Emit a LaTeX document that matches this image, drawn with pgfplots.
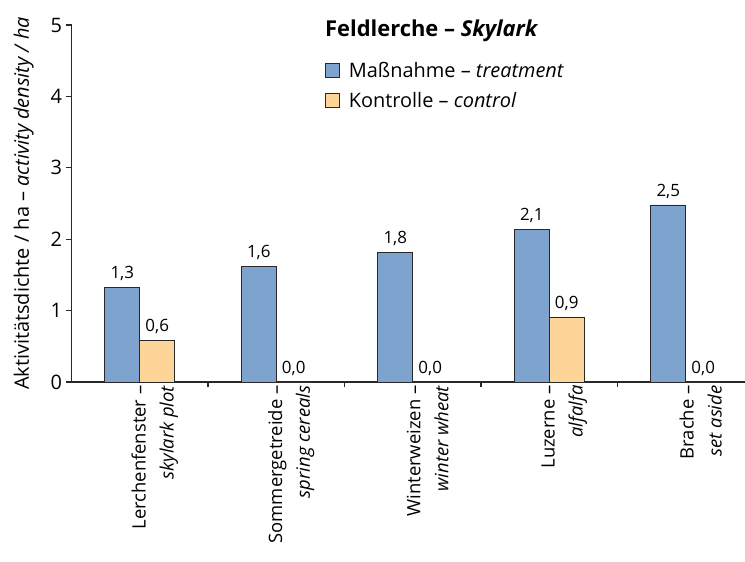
\documentclass[border=0pt]{standalone}
\usepackage{fontspec}
\setmainfont{Open Sans}
\usepackage{pgfplots}
\pgfplotsset{compat=1.18}
\definecolor{tblue}{RGB}{127,163,207}
\definecolor{corange}{RGB}{253,213,153}
\definecolor{axgray}{RGB}{40,40,40}
\begin{document}
\begin{tikzpicture}
\useasboundingbox (0,0) rectangle (745bp,-562bp);
\begin{axis}[
  at={(71.5bp,-382bp)}, anchor=south west,
  width=675.7bp, height=357bp, scale only axis,
  xmin=-0.5, xmax=4.45, ymin=0, ymax=5,
  axis x line*=bottom, axis y line*=left,
  axis line style={-, line width=1.1bp, draw=axgray},
  every tick/.style={line width=1.1bp, draw=axgray},
  tick align=outside, major tick length=5bp,
  ytick={0,1,2,3,4,5},
  /pgf/number format/assume math mode=true,
  yticklabel style={font=\fontsize{20}{24}\selectfont, xshift=-1bp},
  xtick={0.5,1.5,2.5,3.5}, xticklabels={},
  extra x ticks={0,1,2,3,4},
  extra x tick labels={
    {Lerchenfenster --\\\textit{skylark plot}},
    {Sommergetreide --\\\textit{spring cereals}},
    {Winterweizen --\\\textit{winter wheat}},
    {Luzerne --\\\textit{alfalfa}},
    {Brache --\\\textit{set aside}}},
  extra x tick style={major tick length=0pt,
    tick label style={rotate=90, anchor=east, align=right,
      font=\fontsize{18.5}{28}\selectfont, yshift=-15bp}},
  ylabel={Aktivitätsdichte / ha -- \textit{activity density / ha}},
  ylabel style={font=\fontsize{20}{24}\selectfont, yshift=10bp},
  ybar=0pt, bar width=0.256,
  nodes near coords={\pgfmathprintnumber[fixed,fixed zerofill,precision=1,use comma]{\pgfplotspointmeta}},
  every node near coord/.append style={font=\fontsize{17}{21}\selectfont, yshift=3bp},
  legend style={draw=none, fill=none, at={(0.375,0.903)}, anchor=north west,
    font=\fontsize{20}{24}\selectfont, row sep=10bp, inner sep=0pt,
    nodes={inner xsep=9bp}},
  legend cell align=left,
  legend image code/.code={\draw[#1, draw=axgray, line width=0.8bp] (0bp,-7bp) rectangle (14bp,7bp);},
  clip=false,
]
\addplot[fill=tblue, draw=axgray, line width=0.8bp] coordinates {(0,1.33) (1,1.62) (2,1.81) (3,2.14) (4,2.48)};
\addplot[fill=corange, draw=axgray, line width=0.8bp] coordinates {(0,0.58) (1,0) (2,0) (3,0.9) (4,0)};
\legend{Maßnahme -- \textit{treatment}, Kontrolle -- \textit{control}}
\node[anchor=west, font=\fontsize{22}{26}\selectfont\bfseries, inner sep=0pt] at (rel axis cs:0.375,0.985) {Feldlerche -- \textit{Skylark}};
\end{axis}
\end{tikzpicture}
\end{document}
